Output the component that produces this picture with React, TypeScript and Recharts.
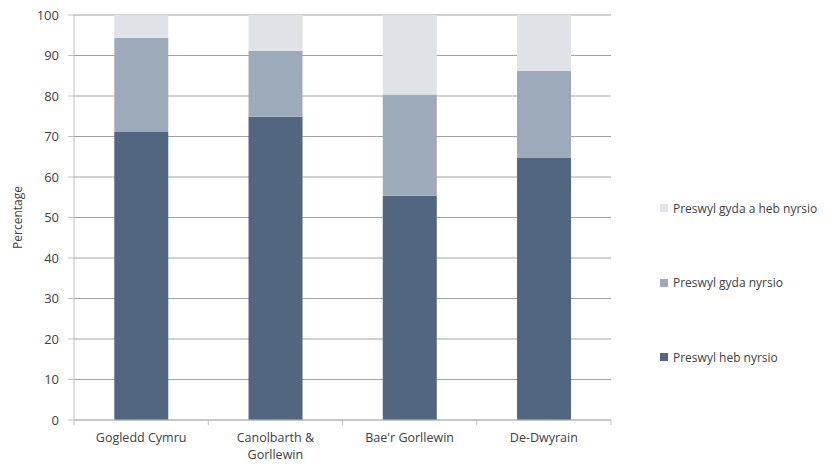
import React from "react";
import { Bar, BarChart, CartesianGrid, Text, XAxis, YAxis } from "recharts";

// Stacked share of care-home places by region (percent of places).
const regions = ["Gogledd Cymru", "Canolbarth & Gorllewin", "Bae'r Gorllewin", "De-Dwyrain"];
const hebNyrsio = [71.1, 74.9, 55.4, 64.8];
const gydaNyrsio = [23.2, 16.3, 25.0, 21.4];
const gydaAHeb = [5.7, 8.8, 19.6, 13.8];
const yTicks = [0, 10, 20, 30, 40, 50, 60, 70, 80, 90, 100];

const SERIES = [
  { key: "hebNyrsio", name: "Preswyl heb nyrsio", color: "#52667f" },
  { key: "gydaNyrsio", name: "Preswyl gyda nyrsio", color: "#9daab9" },
  { key: "gydaAHeb", name: "Preswyl gyda a heb nyrsio", color: "#dfe2e7" },
];

const FONT = "'Open Sans', 'Noto Sans', sans-serif";
const TEXT = "#404040";
const AXIS = "#bfbfbf";
const GRID = "#a3a3a3";

const data = regions.map((region, i) => ({
  region,
  hebNyrsio: hebNyrsio[i],
  gydaNyrsio: gydaNyrsio[i],
  gydaAHeb: gydaAHeb[i],
}));

// category labels wrap like the original, with tick marks on the band edges
function RegionTick(props: any) {
  const { x, y, payload, index, visibleTicksCount } = props;
  const half = payload.offset ?? 0;
  return (
    <g>
      <line x1={x - half} x2={x - half} y1={y} y2={y + 5} stroke={AXIS} />
      {index === visibleTicksCount - 1 && (
        <line x1={x + half} x2={x + half} y1={y} y2={y + 5} stroke={AXIS} />
      )}
      <Text
        x={x}
        y={y + 13}
        width={118}
        textAnchor="middle"
        verticalAnchor="start"
        lineHeight={17}
        fill={TEXT}
        fontSize={12.5}
        style={{ fontFamily: FONT, fontSize: 12.5 }}
      >
        {payload.value}
      </Text>
    </g>
  );
}

// legend sits to the right, top item first (reverse of stack order)
function SideLegend() {
  return (
    <div
      style={{
        position: "absolute",
        left: 660,
        top: 199,
        fontFamily: FONT,
        fontSize: 12,
        color: TEXT,
      }}
    >
      {[...SERIES].reverse().map((s) => (
        <div
          key={s.key}
          style={{ display: "flex", alignItems: "center", height: 18, marginBottom: 56.5 }}
        >
          <span
            style={{ width: 8, height: 8, background: s.color, marginRight: 5, display: "inline-block" }}
          />
          {s.name}
        </div>
      ))}
    </div>
  );
}

export default function App() {
  return (
    <div style={{ position: "absolute", left: 0, top: 0, width: 839, height: 472, background: "#fff" }}>
      <BarChart
        width={839}
        height={472}
        data={data}
        margin={{ top: 15, right: 228, bottom: 0, left: 0 }}
        barCategoryGap="30%"
      >
        <CartesianGrid vertical={false} stroke={GRID} />
        <XAxis
          dataKey="region"
          interval={0}
          tickSize={0}
          tickMargin={0}
          tickLine={false}
          axisLine={{ stroke: AXIS }}
          height={52}
          tick={<RegionTick />}
        />
        <YAxis
          domain={[0, 100]}
          ticks={yTicks}
          interval={0}
          width={74}
          tickSize={6}
          tickMargin={9}
          tickLine={{ stroke: AXIS }}
          axisLine={{ stroke: AXIS }}
          tick={{ fill: TEXT, fontSize: 13, fontFamily: FONT }}
          label={{
            value: "Percentage",
            angle: -90,
            position: "insideLeft",
            offset: 18,
            style: { textAnchor: "middle", fill: TEXT, fontSize: 12, fontFamily: FONT },
          }}
        />
        {SERIES.map((s) => (
          <Bar
            key={s.key}
            dataKey={s.key}
            name={s.name}
            stackId="a"
            fill={s.color}
            isAnimationActive={false}
          />
        ))}
      </BarChart>
      <SideLegend />
    </div>
  );
}
